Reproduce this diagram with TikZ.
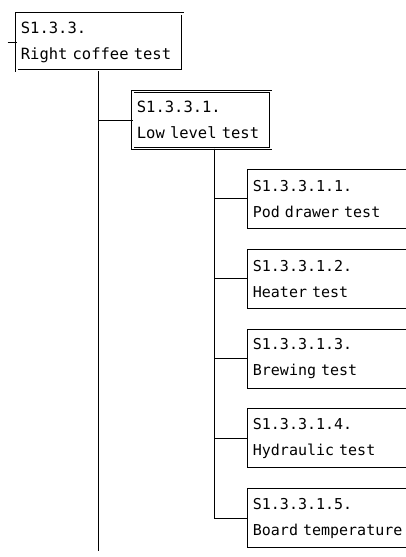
\documentclass[tikz,border=0pt]{standalone}
\usepackage{fontspec}
\setmonofont{DejaVu Sans Mono}
\usetikzlibrary{positioning}

\begin{document}
\begin{tikzpicture}[
  dbox/.style={draw, double, double distance=1.6pt, line width=0.7pt,
               font=\ttfamily\fontsize{15.5}{26}\selectfont, align=left,
               inner xsep=4pt, minimum height=57pt},
  leaf/.style={draw, line width=0.8pt, font=\ttfamily\fontsize{15}{26}\selectfont,
               align=left, text width=185pt, inner xsep=6pt, minimum height=59pt},
  conn/.style={line width=0.8pt},
  trunk/.style={line width=1.4pt},
]
\useasboundingbox (0,0) rectangle (406pt,-557pt);
\fill[white] (0,0) rectangle (406pt,-557pt);

\node[dbox, text width=158pt, anchor=north west] (coffee) at (16.5pt,-13.5pt) {S1.3.3.\\Right coffee test};
\node[dbox, text width=130pt, below right=20pt and 116pt of coffee.south west] (low) {S1.3.3.1.\\Low level test};
\node[leaf, below right=20pt and 114pt of low.south west] (pod) {S1.3.3.1.1.\\Pod drawer test};
\node[leaf, below=20pt of pod] (heater) {S1.3.3.1.2.\\Heater test};
\node[leaf, below=20pt of heater] (brew) {S1.3.3.1.3.\\Brewing test};
\node[leaf, below=20pt of brew] (hydro) {S1.3.3.1.4.\\Hydraulic test};
\node[leaf, below=20pt of hydro] (board) {S1.3.3.1.5.\\Board temperature};

\coordinate[left=9pt of coffee.west] (in);
\coordinate (bot) at (0,-551pt);
\coordinate (ct) at ([xshift=82pt]coffee.south west);
\coordinate (lt) at ([xshift=82pt]low.south west);

\draw[conn] (in) -- (coffee.west);
\draw[trunk] (ct) -- (ct |- bot);
\draw[conn] (ct) |- (low.west);
\foreach \n in {pod,heater,brew,hydro,board}
  \draw[conn] (lt) |- (\n.west);
\draw[trunk] (lt) -- (lt |- hydro.west);
\end{tikzpicture}
\end{document}
